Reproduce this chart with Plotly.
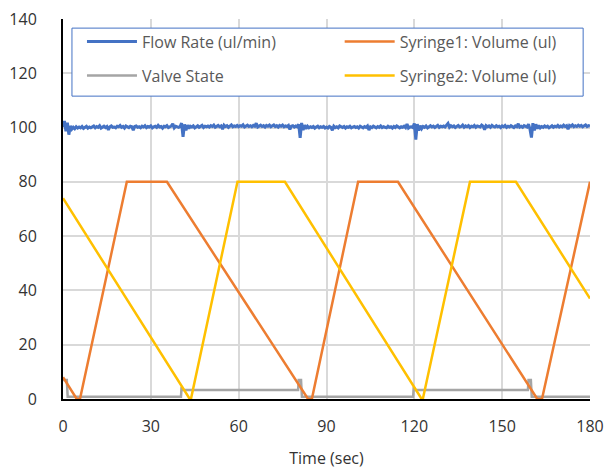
import numpy as np
import plotly.graph_objects as go

# ---- data -------------------------------------------------------------
# Syringe 1 volume (ul): breakpoints of the fill / hold / dispense cycle
s1_time = [0, 4.7, 5.8, 21.8, 35.5, 83.7, 85.0, 100.8, 114.4, 162.0, 163.6, 180]
s1_vol = [8, 0, 0, 80, 80, 0, 0, 80, 80, 0, 0, 80]

# Syringe 2 volume (ul)
s2_time = [0, 43.3, 43.7, 59.6, 75.8, 122.5, 122.9, 139.0, 154.7, 180]
s2_vol = [74, 0, 0, 80, 80, 0, 0, 80, 80, 37]

# Valve state trace (with switching transients)
valve_time = [0, 1.3, 1.6, 40.3, 40.5, 41.0, 80.3, 80.5, 81.3, 81.6,
              119.6, 119.8, 120.3, 158.8, 159.0, 159.8, 160.1, 180]
valve_val = [7, 7, 0.8, 0.8, 4.5, 3.3, 3.3, 7, 7, 0.8,
             0.8, 4.5, 3.3, 3.3, 7, 7, 0.8, 0.8]

# Flow rate (ul/min), sampled every 0.5 s from 0 to 180 s
flow_dt = 0.5
flow_rate = [
    100.2, 102.4, 98.6, 101.8, 97.4, 100.6, 99.4, 100.1, 99.6, 100.3, 99.8, 100.2, 99.9, 100.4, 99.7, 100.1, 100.5, 99.8, 100.2, 99.9,
    100.3, 100.6, 99.9, 100.4, 100.1, 100.7, 99.8, 100.2, 100.5, 100.0, 100.4, 99.1, 100.3, 100.6, 100.1, 100.2, 99.9, 100.5, 100.3, 100.8,
    100.1, 100.4, 99.8, 100.6, 100.2, 100.0, 100.5, 100.3, 99.0, 100.4, 100.6, 100.1, 100.3, 99.9, 100.5, 100.2, 100.7, 100.0, 100.4, 100.2,
    100.6, 99.9, 100.3, 100.5, 100.1, 100.8, 100.2, 100.4, 99.8, 100.5, 100.3, 100.7, 100.0, 100.4, 100.6, 101.4, 99.9, 100.5, 100.3, 100.1,
    100.4, 101.6, 96.6, 101.2, 99.0, 100.9, 99.7, 100.5, 100.2, 100.6, 99.9, 100.3, 100.7, 100.1, 100.4, 100.8, 100.0, 100.5, 100.3, 100.6,
    100.2, 100.7, 100.4, 100.9, 100.1, 100.5, 100.8, 100.3, 100.6, 99.4, 100.9, 100.4, 100.7, 100.1, 100.5, 101.0, 100.3, 100.6, 100.4, 100.8,
    100.3, 100.7, 100.5, 101.0, 100.2, 100.6, 100.9, 100.4, 100.7, 100.3, 100.8, 100.5, 101.6, 100.2, 100.6, 100.9, 100.4, 100.7, 100.2, 100.8,
    100.5, 100.9, 100.3, 100.6, 101.0, 100.4, 100.7, 100.2, 100.8, 100.5, 100.9, 100.3, 100.6, 100.4, 100.8, 99.3, 100.5, 100.7, 100.2, 100.6,
    100.3, 101.2, 96.2, 101.7, 99.1, 100.9, 99.6, 100.5, 99.9, 100.3, 100.0, 100.4, 99.8, 100.2, 100.5, 99.9, 100.3, 100.1, 100.4, 99.8,
    100.2, 99.8, 100.4, 100.1, 99.0, 100.5, 100.0, 100.3, 99.9, 100.6, 100.2, 100.0, 100.4, 99.8, 100.3, 100.1, 100.5, 99.9, 100.2, 100.4,
    100.0, 100.3, 99.8, 100.5, 100.2, 99.9, 100.4, 100.1, 100.6, 99.1, 100.3, 100.0, 100.5, 100.2, 99.9, 100.4, 100.1, 100.6, 100.0, 100.3,
    100.2, 99.9, 100.5, 100.1, 100.3, 99.8, 100.4, 100.0, 100.6, 100.2, 99.9, 100.3, 100.1, 100.5, 100.0, 101.3, 99.8, 100.2, 100.3, 100.0,
    101.5, 95.6, 101.3, 98.9, 100.7, 99.6, 100.4, 100.1, 100.6, 99.9, 100.3, 100.7, 100.2, 100.5, 100.0, 100.4, 100.8, 100.1, 100.5, 100.3,
    100.6, 100.2, 100.9, 101.5, 100.1, 100.7, 100.3, 100.6, 100.0, 100.5, 100.8, 100.2, 100.4, 100.9, 100.1, 100.6, 100.3, 100.7, 100.0, 100.5,
    100.3, 100.8, 100.1, 100.6, 100.4, 100.2, 100.9, 100.5, 99.2, 100.7, 100.3, 100.6, 100.1, 100.8, 100.4, 100.2, 100.7, 100.3, 100.5, 100.0,
    100.6, 100.3, 100.8, 100.1, 100.5, 100.2, 100.7, 100.4, 100.0, 100.6, 100.3, 101.4, 100.2, 100.5, 100.1, 100.7, 100.4, 100.2, 101.3, 99.4,
    96.3, 101.6, 99.0, 101.2, 99.6, 100.8, 99.9, 100.4, 100.1, 100.6, 100.2, 100.5, 99.9, 100.4, 100.7, 100.1, 100.5, 100.3, 100.8, 100.2,
    100.6, 100.3, 100.9, 100.4, 100.7, 99.4, 100.8, 100.5, 101.0, 100.3, 100.7, 100.4, 100.9, 100.5, 100.8, 100.3, 100.6, 101.0, 100.4, 100.7,
    100.5,
]
flow_time = np.arange(len(flow_rate)) * flow_dt

x_ticks = [0, 30, 60, 90, 120, 150, 180]
y_ticks = [0, 20, 40, 60, 80, 100, 120, 140]

# ---- styling ----------------------------------------------------------
BLUE = "#4472C4"
ORANGE = "#ED7D31"
GRAY = "#A5A5A5"
GOLD = "#FFC000"
GRID = "#D9D9D9"
FONT = "Open Sans"

fig = go.Figure()

fig.add_trace(go.Scatter(x=flow_time, y=flow_rate, mode="lines", name="Flow Rate (ul/min)",
                         line=dict(color=BLUE, width=3), legend="legend", legendgroup="a"))
fig.add_trace(go.Scatter(x=valve_time, y=valve_val, mode="lines", name="Valve State",
                         line=dict(color=GRAY, width=2.5), legend="legend", legendgroup="b"))
fig.add_trace(go.Scatter(x=s1_time, y=s1_vol, mode="lines", name="Syringe1: Volume (ul)",
                         line=dict(color=ORANGE, width=2.5), legend="legend2", legendgroup="c"))
fig.add_trace(go.Scatter(x=s2_time, y=s2_vol, mode="lines", name="Syringe2: Volume (ul)",
                         line=dict(color=GOLD, width=2.5), legend="legend2", legendgroup="d"))

legend_common = dict(
    orientation="v", xanchor="left", yanchor="top", y=0.985,
    bgcolor="rgba(0,0,0,0)", borderwidth=0, tracegroupgap=10,
    font=dict(family=FONT, size=16, color="#595959"), itemwidth=50,
)

fig.update_layout(
    width=609, height=470,
    margin=dict(l=63, r=19, t=19, b=71, autoexpand=False),
    paper_bgcolor="white", plot_bgcolor="white",
    font=dict(family=FONT, color="#333333"),
    showlegend=True,
    legend=dict(x=0.036, **legend_common),
    legend2=dict(x=0.525, **legend_common),
    shapes=[dict(type="rect", xref="paper", yref="paper",
                 x0=0.017, x1=0.987, y0=0.797, y1=0.976,
                 line=dict(color=BLUE, width=1), fillcolor="white", layer="above")],
)

fig.update_xaxes(
    range=[0, 180], tickvals=x_ticks, ticks="", showgrid=True, gridcolor=GRID, gridwidth=1.5,
    showline=True, linecolor="black", linewidth=2, zeroline=False, automargin=False,
    tickfont=dict(family=FONT, size=16, color="#333333"), ticklabelstandoff=12,
    title=dict(text="Time (sec)", font=dict(family=FONT, size=16, color="#333333"), standoff=17),
)
fig.update_yaxes(
    range=[0, 140], tickvals=y_ticks, ticks="", showgrid=True, gridcolor=GRID, gridwidth=1.5,
    showline=True, linecolor="black", linewidth=2, zeroline=False, automargin=False,
    tickfont=dict(family=FONT, size=16, color="#333333"), ticklabelstandoff=21,
)

fig.write_html("out.html")
